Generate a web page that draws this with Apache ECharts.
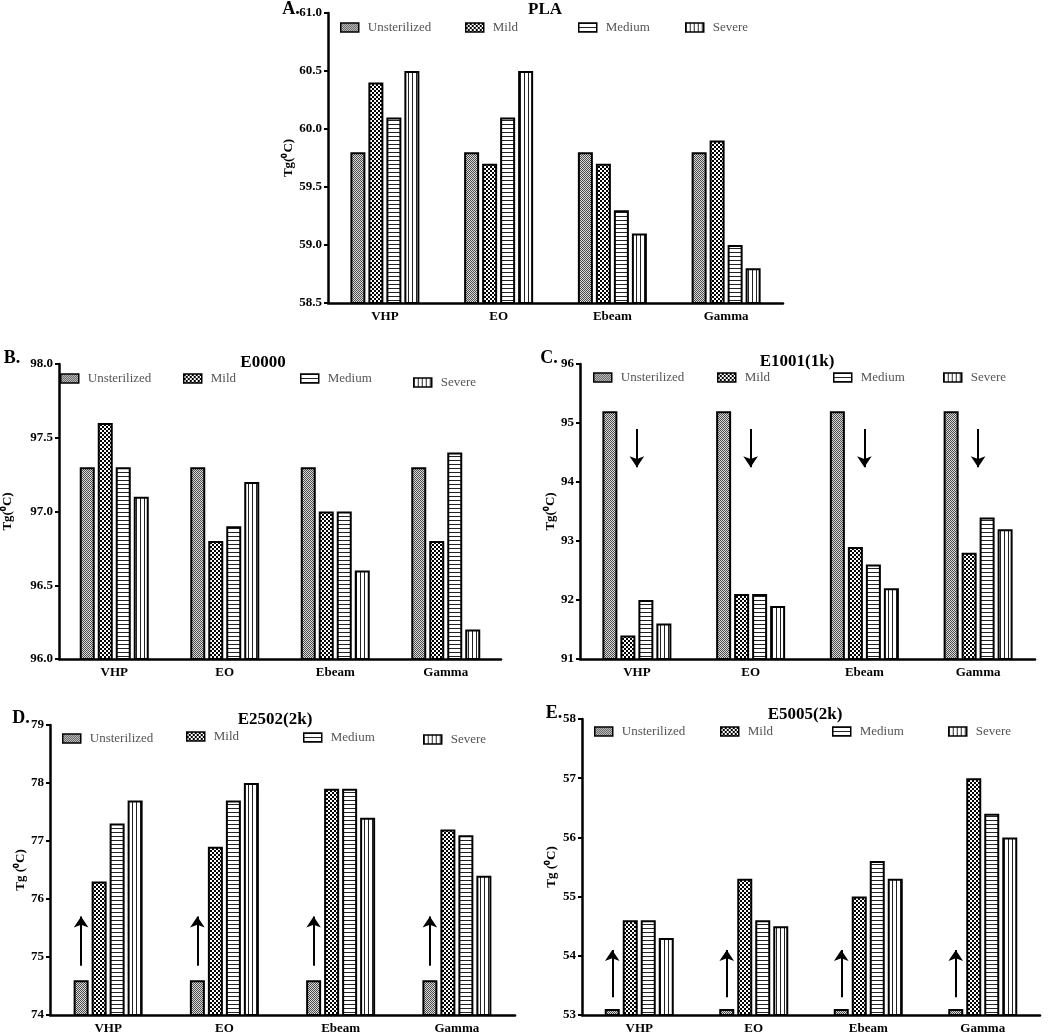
<!DOCTYPE html>
<html>
<head>
<meta charset="utf-8">
<script src="https://cdn.jsdelivr.net/npm/echarts@6/dist/echarts.min.js"></script>
<style>html,body{margin:0;padding:0;background:#fff}#main{width:1050px;height:1035px}</style>
</head>
<body>
<div id="main"></div>
<script>
var categories = ['VHP', 'EO', 'Ebeam', 'Gamma'];
var treatments = ['Unsterilized', 'Mild', 'Medium', 'Severe'];

// Tg values, one row per treatment, columns = VHP, EO, Ebeam, Gamma
var plaTg   = [[59.8, 59.8, 59.8, 59.8], [60.4, 59.7, 59.7, 59.9], [60.1, 60.1, 59.3, 59.0], [60.5, 60.5, 59.1, 58.8]];
var e0000Tg = [[97.3, 97.3, 97.3, 97.3], [97.6, 96.8, 97.0, 96.8], [97.3, 96.9, 97.0, 97.4], [97.1, 97.2, 96.6, 96.2]];
var e1001Tg = [[95.2, 95.2, 95.2, 95.2], [91.4, 92.1, 92.9, 92.8], [92.0, 92.1, 92.6, 93.4], [91.6, 91.9, 92.2, 93.2]];
var e2502Tg = [[74.6, 74.6, 74.6, 74.6], [76.3, 76.9, 77.9, 77.2], [77.3, 77.7, 77.9, 77.1], [77.7, 78.0, 77.4, 76.4]];
var e5005Tg = [[53.1, 53.1, 53.1, 53.1], [54.6, 55.3, 55.0, 57.0], [54.6, 54.6, 55.6, 56.4], [54.3, 54.5, 55.3, 56.0]];

// arrows: [from, to] in Tg units
var e1001Arrow = [94.9, 94.25];
var e2502Arrow = [74.85, 75.7];
var e5005Arrow = [53.3, 54.1];

var FONT = '"Liberation Serif", "Times New Roman", serif';

function pattern(w, h, draw) {
    var c = document.createElement('canvas');
    c.width = w; c.height = h;
    draw(c.getContext('2d'));
    return {image: c, repeat: 'repeat'};
}
var fills = [
    pattern(2, 2, function (g) { g.fillStyle = '#dcdcdc'; g.fillRect(0, 0, 2, 2); g.fillStyle = '#4a4a4a'; g.fillRect(0, 0, 1, 1); g.fillRect(1, 1, 1, 1); }),
    pattern(4, 4, function (g) { g.fillStyle = '#fff'; g.fillRect(0, 0, 4, 4); g.fillStyle = '#000'; g.fillRect(0, 0, 2, 2); g.fillRect(2, 2, 2, 2); }),
    pattern(1, 4, function (g) { g.fillStyle = '#fff'; g.fillRect(0, 0, 1, 4); g.fillStyle = '#222'; g.fillRect(0, 0, 1, 1); }),
    pattern(4, 1, function (g) { g.fillStyle = '#fff'; g.fillRect(0, 0, 4, 1); g.fillStyle = '#222'; g.fillRect(0, 0, 1, 1); })
];

var panels = [
    {tag: 'A.', title: 'PLA', values: plaTg, min: 58.5, max: 61, interval: 0.5, dec: 1,
     grid: {left: 328, top: 13, width: 455, height: 290}, yName: 'Tg(\u2070C)', nameGap: 33,
     titleXY: [545, 10], tagXY: [291, 9], legX: [340, 465, 578, 685], legY: [29, 29, 29, 29]},
    {tag: 'B.', title: 'E0000', values: e0000Tg, min: 96, max: 98, interval: 0.5, dec: 1,
     grid: {left: 48, top: 364, width: 453, height: 295}, yName: 'Tg(\u2070C)', nameGap: 45,
     titleXY: [263, 363], tagXY: [12, 358], legX: [60, 183, 300, 413], legY: [380, 380, 380, 384]},
    {tag: 'C.', title: 'E1001(1k)', values: e1001Tg, min: 91, max: 96, interval: 1, dec: 0,
     grid: {left: 580, top: 364, width: 455, height: 295}, yName: 'Tg(\u2070C)', nameGap: 22,
     titleXY: [797, 362], tagXY: [549, 358], legX: [593, 717, 833, 943], legY: [379, 379, 379, 379],
     arrow: e1001Arrow, arrowOnCategory: true},
    {tag: 'D.', title: 'E2502(2k)', values: e2502Tg, min: 74, max: 79, interval: 1, dec: 0,
     grid: {left: 50, top: 725, width: 465, height: 291}, yName: 'Tg (\u2070C)', nameGap: 22,
     titleXY: [275, 720], tagXY: [21, 718], legX: [62, 186, 303, 423], legY: [740, 738, 739, 741],
     arrow: e2502Arrow},
    {tag: 'E.', title: 'E5005(2k)', values: e5005Tg, min: 53, max: 58, interval: 1, dec: 0,
     grid: {left: 582, top: 719, width: 458, height: 297}, yName: 'Tg (\u2070C)', nameGap: 24,
     titleXY: [805, 715], tagXY: [554, 713], legX: [594, 720, 832, 948], legY: [733, 733, 733, 733],
     arrow: e5005Arrow}
];

var grids = [], xAxes = [], yAxes = [], series = [], legends = [], texts = [];

function arrowLines(a) {
    return categories.map(function (c, i) {
        return [{coord: [i, a[0]]}, {coord: [i, a[1]]}];
    });
}
var arrowStyle = {
    silent: true, symbol: ['none', 'arrow'], symbolSize: 11,
    label: {show: false}, lineStyle: {color: '#000', width: 2, type: 'solid'}
};

panels.forEach(function (p, k) {
    grids.push(p.grid);
    xAxes.push({
        type: 'category', gridIndex: k, data: categories,
        axisLine: {lineStyle: {color: '#000', width: 2.5}},
        axisTick: {alignWithLabel: true, length: 5, lineStyle: {color: '#000', width: 2}},
        axisLabel: {color: '#000', fontFamily: FONT, fontWeight: 'bold', fontSize: 13, margin: 7}
    });
    yAxes.push({
        type: 'value', gridIndex: k, min: p.min, max: p.max, interval: p.interval,
        name: p.yName, nameLocation: 'middle', nameRotate: 90, nameGap: p.nameGap,
        nameTextStyle: {color: '#000', fontFamily: FONT, fontWeight: 'bold', fontSize: 13},
        axisLine: {show: true, lineStyle: {color: '#000', width: 2.5}},
        axisTick: {show: true, length: 4, lineStyle: {color: '#000', width: 2}},
        splitLine: {show: false},
        axisLabel: {color: '#000', fontFamily: FONT, fontWeight: 'bold', fontSize: 13, margin: 6,
            formatter: function (v) { return v.toFixed(p.dec); }}
    });
    treatments.forEach(function (t, j) {
        var s = {
            type: 'bar', name: t, xAxisIndex: k, yAxisIndex: k,
            data: p.values[j], barWidth: 15, barGap: '20%',
            itemStyle: {color: fills[j], borderColor: '#000', borderWidth: 2}
        };
        if (p.arrow && !p.arrowOnCategory && j === 0) {
            s.markLine = Object.assign({data: arrowLines(p.arrow)}, arrowStyle);
        }
        series.push(s);
        legends.push({
            data: [t], left: p.legX[j], top: p.legY[j] - 8, padding: 0, icon: 'rect',
            itemWidth: 18, itemHeight: 9, selectedMode: false,
            itemStyle: {borderWidth: 1.5},
            textStyle: {fontFamily: FONT, fontSize: 13, color: '#555', padding: [0, 0, 0, 4]}
        });
    });
    if (p.arrow && p.arrowOnCategory) {
        series.push({
            type: 'line', name: 'arrows' + k, xAxisIndex: k, yAxisIndex: k, data: [],
            markLine: Object.assign({data: arrowLines(p.arrow)}, arrowStyle)
        });
    }
    texts.push({type: 'text', x: p.titleXY[0], y: p.titleXY[1],
        style: {text: p.title, font: 'bold 17px ' + FONT, fill: '#000', textAlign: 'center', textVerticalAlign: 'middle'}});
    texts.push({type: 'text', x: p.tagXY[0], y: p.tagXY[1],
        style: {text: p.tag, font: 'bold 18px ' + FONT, fill: '#000', textAlign: 'center', textVerticalAlign: 'middle'}});
});

var chart = echarts.init(document.getElementById('main'));
chart.setOption({
    animation: false,
    backgroundColor: '#fff',
    grid: grids,
    xAxis: xAxes,
    yAxis: yAxes,
    legend: legends,
    series: series,
    graphic: texts
});
</script>
</body>
</html>
